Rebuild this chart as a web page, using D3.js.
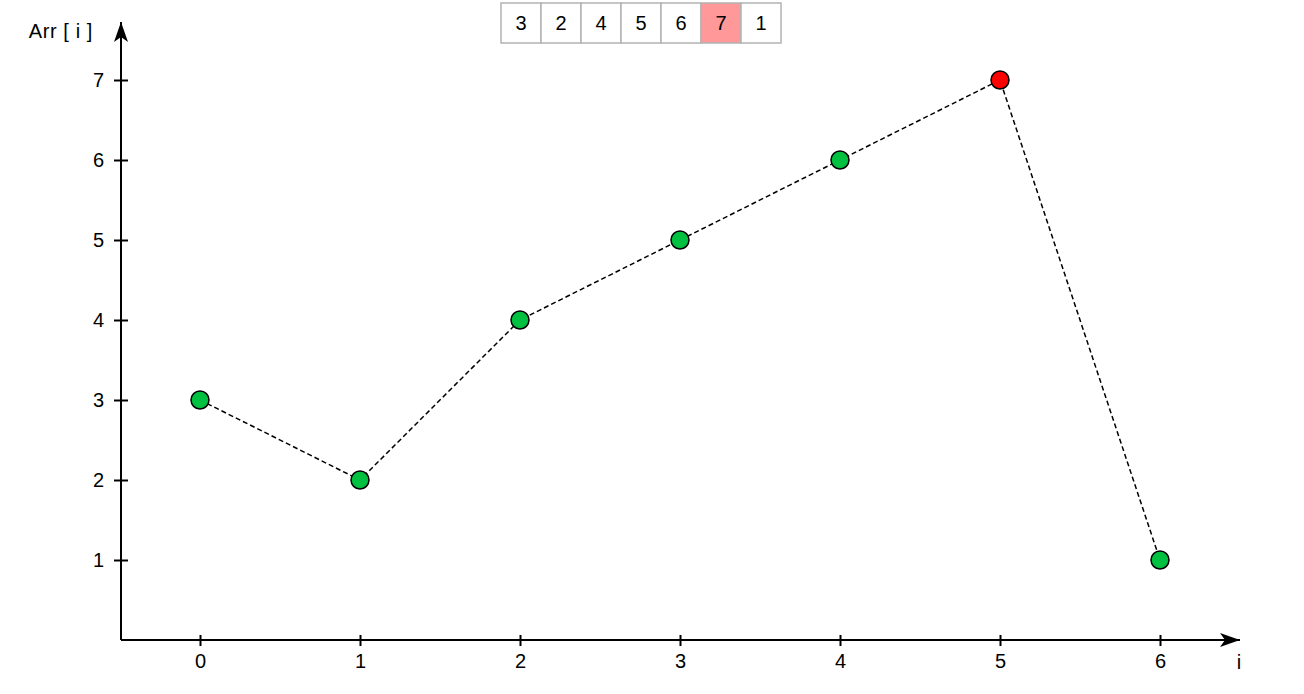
<!DOCTYPE html>
<html>
<head>
<meta charset="utf-8">
<script src="https://cdn.jsdelivr.net/npm/d3@7"></script>
<style>
  body { margin: 0; background: #fff; }
  text { font-family: "Liberation Sans", Arial, sans-serif; font-size: 20px; fill: #000; }
</style>
</head>
<body>
<div id="chart"></div>
<script>
// data
var indices = [0, 1, 2, 3, 4, 5, 6];
var values = [3, 2, 4, 5, 6, 7, 1];
var highlightIndex = 5;
var yTicks = [1, 2, 3, 4, 5, 6, 7];

var svgWidth = 1304;
var svgHeight = 694;
var fontSize = "20px";

var svg = d3.select("#chart")
  .append("svg")
  .attr("width", svgWidth)
  .attr("height", svgHeight);

var defs = svg.append("defs");
defs.append("marker")
  .attr("id", "arrow")
  .attr("viewBox", "0 0 20 14")
  .attr("refX", 20)
  .attr("refY", 7)
  .attr("markerWidth", 20)
  .attr("markerHeight", 14)
  .attr("markerUnits", "userSpaceOnUse")
  .attr("orient", "auto")
  .append("path")
  .attr("d", "M0,0 L20,7 L0,14 L5,7 Z")
  .attr("fill", "#000");

// scales
var xScale = d3.scaleLinear().domain([-0.5, 6.5]).range([120, 1240]);
var yScale = d3.scaleLinear().domain([0, 7.725]).range([640, 22]);

// axes lines with arrows
svg.append("line")
  .attr("x1", 121).attr("y1", 640)
  .attr("x2", xScale(6.5)).attr("y2", 640)
  .attr("stroke", "#000").attr("stroke-width", 2)
  .attr("marker-end", "url(#arrow)");

svg.append("line")
  .attr("x1", 121).attr("y1", 640)
  .attr("x2", 121).attr("y2", yScale(7.725))
  .attr("stroke", "#000").attr("stroke-width", 2)
  .attr("marker-end", "url(#arrow)");

// x ticks
var xAxis = d3.axisBottom(xScale).tickValues(indices).tickFormat(d3.format("d"))
  .tickSize(6).tickSizeOuter(0).tickPadding(8);
var gx = svg.append("g").attr("transform", "translate(0,640)").call(xAxis);
gx.select(".domain").remove();
gx.selectAll(".tick line").attr("y1", -5).attr("y2", 6).attr("stroke-width", 2);
gx.selectAll(".tick text").style("font-size", fontSize).style("font-family", "Liberation Sans, Arial, sans-serif");

// y ticks
var yAxis = d3.axisLeft(yScale).tickValues(yTicks).tickFormat(d3.format("d"))
  .tickSize(7).tickSizeOuter(0).tickPadding(10);
var gy = svg.append("g").attr("transform", "translate(121,0)").call(yAxis);
gy.select(".domain").remove();
gy.selectAll(".tick line").attr("x1", -7).attr("x2", 7).attr("stroke-width", 2);
gy.selectAll(".tick text").style("font-size", fontSize).style("font-family", "Liberation Sans, Arial, sans-serif");

// axis labels
svg.append("text")
  .attr("x", 93).attr("y", 38)
  .attr("text-anchor", "end")
  .style("letter-spacing", "0.6px")
  .text("Arr [ i ]");

svg.append("text")
  .attr("x", 1239).attr("y", 669)
  .attr("text-anchor", "middle")
  .text("i");

// dashed line
var line = d3.line()
  .x(function(d, i) { return xScale(indices[i]); })
  .y(function(d) { return yScale(d); });

svg.append("path")
  .datum(values)
  .attr("d", line)
  .attr("fill", "none")
  .attr("stroke", "#000")
  .attr("stroke-width", 1.5)
  .attr("stroke-dasharray", "5,3");

// points
svg.selectAll("circle.pt")
  .data(values)
  .enter()
  .append("circle")
  .attr("class", "pt")
  .attr("cx", function(d, i) { return xScale(indices[i]); })
  .attr("cy", function(d) { return yScale(d); })
  .attr("r", 9)
  .attr("fill", function(d, i) { return i === highlightIndex ? "#ff0000" : "#00c040"; })
  .attr("stroke", "#000")
  .attr("stroke-width", 1.5);

// array strip at top
var cellScale = d3.scaleBand().domain(indices).range([501, 781]);
var cells = svg.selectAll("g.cell")
  .data(values)
  .enter()
  .append("g")
  .attr("class", "cell")
  .attr("transform", function(d, i) { return "translate(" + cellScale(indices[i]) + ",3)"; });

cells.append("rect")
  .attr("width", cellScale.bandwidth())
  .attr("height", 40)
  .attr("fill", function(d, i) { return i === highlightIndex ? "#ff9999" : "#fff"; })
  .attr("stroke", "#b3b3b3")
  .attr("stroke-width", 1.5);

cells.append("text")
  .attr("x", cellScale.bandwidth() / 2)
  .attr("y", 27)
  .attr("text-anchor", "middle")
  .text(function(d) { return d; });
</script>
</body>
</html>
